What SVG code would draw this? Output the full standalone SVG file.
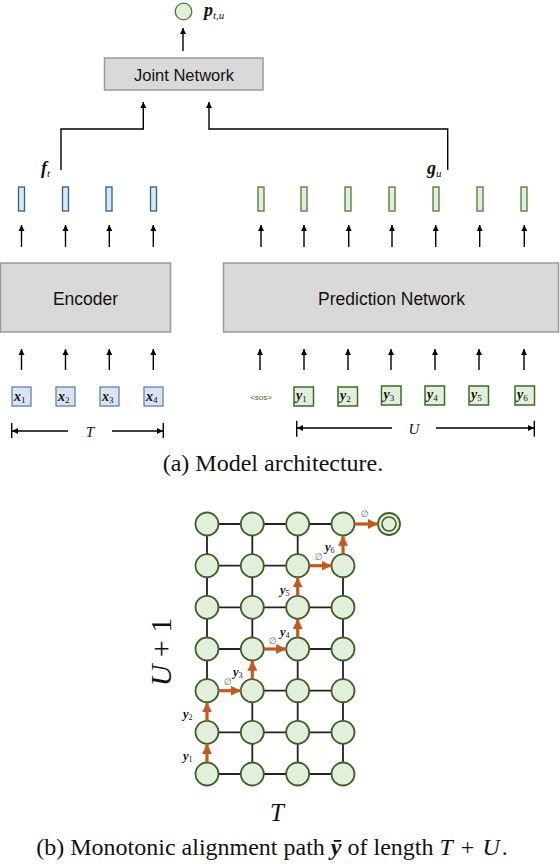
<svg xmlns="http://www.w3.org/2000/svg" width="560" height="864" viewBox="0 0 560 864">
<defs>
<marker id="ah" viewBox="0 0 8 8" refX="8" refY="4" markerWidth="6" markerHeight="7" markerUnits="userSpaceOnUse" orient="auto"><path d="M0,0 L8,4 L0,8 z" fill="#000"/></marker>
<marker id="oh" viewBox="0 0 10 10" refX="10" refY="5" markerWidth="10" markerHeight="10" markerUnits="userSpaceOnUse" orient="auto"><path d="M0,0 L10,5 L0,10 z" fill="#c8581a"/></marker>
</defs>
<style>
.box{fill:#d9d9d9;stroke:#9a9a9a;stroke-width:1.5}
.lbl{font-family:"Liberation Sans",Arial,sans-serif;fill:#111;text-anchor:middle}
.arr{stroke:#000;stroke-width:1.4;fill:none;marker-end:url(#ah)}
.ln{stroke:#000;stroke-width:1.4;fill:none}
.bv{fill:#dae8f5;stroke:#2f5f8f;stroke-width:1.3}
.gv{fill:#e2efda;stroke:#4d7a38;stroke-width:1.3}
.xb{fill:#dae3f0;stroke:#5f84ad;stroke-width:1.3}
.yb{fill:#e2efda;stroke:#3d6b2a;stroke-width:1.5}
.m{font-family:"Liberation Serif","Times New Roman",serif;font-style:italic;font-weight:bold;fill:#111}
.s{font-weight:normal;font-style:normal}
.si{font-weight:normal}
.nd{fill:#e2efda;stroke:#3f6129;stroke-width:1.8}
.gl{stroke:#222;stroke-width:1.8;fill:none}
.op{stroke:#c8581a;stroke-width:3.2;fill:none;marker-end:url(#oh)}
.em{font-family:"DejaVu Sans",sans-serif;font-size:9px;fill:#666;text-anchor:middle}
.cap{font-family:"Liberation Serif","Times New Roman",serif;font-size:24px;fill:#111}
</style>

<!-- Part (a) -->
<g id="output">
<circle cx="183.5" cy="11.5" r="8.3" fill="#e2efda" stroke="#4d7a38" stroke-width="1.3"/>
<text class="m" x="204" y="16" font-size="18">p<tspan class="si" font-size="11" dy="3">t,u</tspan></text>
</g>
<g id="joint">
<rect class="box" x="104.5" y="58" width="158.5" height="32"/>
<text class="lbl" x="184" y="81" font-size="16.5">Joint Network</text>
</g>
<g id="encoder">
<rect class="box" x="0.5" y="263" width="170" height="69"/>
<text class="lbl" x="85.5" y="305" font-size="17.5">Encoder</text>
</g>
<g id="prediction">
<rect class="box" x="223.5" y="263" width="335" height="69"/>
<text class="lbl" x="391.5" y="305" font-size="17.5">Prediction Network</text>
</g>
<g id="enc-vectors">
<rect class="bv" x="18.5" y="187" width="6" height="24"/>
<rect class="bv" x="62.5" y="187" width="6" height="24"/>
<rect class="bv" x="106" y="187" width="6" height="24"/>
<rect class="bv" x="150.5" y="187" width="6" height="24"/>
</g>
<g id="pred-vectors">
<rect class="gv" x="258" y="187" width="6" height="24"/>
<rect class="gv" x="301" y="187" width="6" height="24"/>
<rect class="gv" x="345" y="187" width="6" height="24"/>
<rect class="gv" x="389" y="187" width="6" height="24"/>
<rect class="gv" x="433" y="187" width="6" height="24"/>
<rect class="gv" x="477" y="187" width="6" height="24"/>
<rect class="gv" x="521" y="187" width="6" height="24"/>
</g>
<g id="labels-fg">
<text class="m" x="41" y="174" font-size="18">f<tspan class="si" font-size="11" dy="3">t</tspan></text>
<text class="m" x="427" y="174" font-size="18">g<tspan class="si" font-size="11" dy="3">u</tspan></text>
</g>
<g id="inputs">
<rect class="xb" x="12" y="387" width="19" height="19"/>
<text class="m" x="14" y="400.5" font-size="14">x<tspan class="s" font-size="9" dy="2">1</tspan></text>
<rect class="xb" x="56" y="387" width="19" height="19"/>
<text class="m" x="58" y="400.5" font-size="14">x<tspan class="s" font-size="9" dy="2">2</tspan></text>
<rect class="xb" x="100" y="387" width="19" height="19"/>
<text class="m" x="102" y="400.5" font-size="14">x<tspan class="s" font-size="9" dy="2">3</tspan></text>
<rect class="xb" x="144" y="387" width="19" height="19"/>
<text class="m" x="146" y="400.5" font-size="14">x<tspan class="s" font-size="9" dy="2">4</tspan></text>
<text x="261" y="400" font-family="Liberation Sans,Arial,sans-serif" font-size="8" fill="#3d6b2a" text-anchor="middle">&lt;sos&gt;</text>
<rect class="yb" x="294" y="387" width="19.5" height="19"/>
<text class="m" x="296" y="400" font-size="14">y<tspan class="s" font-size="9" dy="2">1</tspan></text>
<rect class="yb" x="338" y="387" width="19.5" height="19"/>
<text class="m" x="340" y="400" font-size="14">y<tspan class="s" font-size="9" dy="2">2</tspan></text>
<rect class="yb" x="381.5" y="386" width="19.5" height="19"/>
<text class="m" x="383.5" y="399" font-size="14">y<tspan class="s" font-size="9" dy="2">3</tspan></text>
<rect class="yb" x="425" y="386" width="19.5" height="19"/>
<text class="m" x="427" y="399" font-size="14">y<tspan class="s" font-size="9" dy="2">4</tspan></text>
<rect class="yb" x="469" y="386" width="19.5" height="19"/>
<text class="m" x="471" y="399" font-size="14">y<tspan class="s" font-size="9" dy="2">5</tspan></text>
<rect class="yb" x="515" y="386" width="19.5" height="19"/>
<text class="m" x="517" y="399" font-size="14">y<tspan class="s" font-size="9" dy="2">6</tspan></text>
</g>
<g id="connectors">
<path class="arr" d="M183,51 V28"/>
<path class="arr" d="M61,170 V129 H143.3 V102"/>
<path class="arr" d="M447.7,170 V129 H209 V102"/>
<path class="arr" d="M21.5,247 V225"/>
<path class="arr" d="M65.5,247 V225"/>
<path class="arr" d="M109.3,247 V225"/>
<path class="arr" d="M153.3,247 V225"/>
<path class="arr" d="M261,247 V225"/>
<path class="arr" d="M304,247 V225"/>
<path class="arr" d="M348.7,247 V225"/>
<path class="arr" d="M392,247 V225"/>
<path class="arr" d="M435.7,247 V225"/>
<path class="arr" d="M479.7,247 V225"/>
<path class="arr" d="M524.3,247 V225"/>
<path class="arr" d="M21.5,370 V349"/>
<path class="arr" d="M65.5,370 V349"/>
<path class="arr" d="M109.3,370 V349"/>
<path class="arr" d="M153.3,370 V349"/>
<path class="arr" d="M260,370 V349"/>
<path class="arr" d="M304,370 V349"/>
<path class="arr" d="M348,370 V349"/>
<path class="arr" d="M391,370 V349"/>
<path class="arr" d="M435,370 V349"/>
<path class="arr" d="M479,370 V349"/>
<path class="arr" d="M524,370 V349"/>
<!-- T dimension -->
<path class="ln" d="M11.7,423 V438 M163.3,423 V438"/>
<path class="arr" d="M68,431 H12"/>
<path class="arr" d="M112,431 H163"/>
<!-- U dimension -->
<path class="ln" d="M296.7,420.7 V436.7 M534.3,420.7 V436.7"/>
<path class="arr" d="M392,428 H297"/>
<path class="arr" d="M436,428 H534"/>
</g>
<g id="dim-labels">
<text x="90" y="436.5" font-family="Liberation Serif,serif" font-style="italic" font-size="15" text-anchor="middle" fill="#111">T</text>
<text x="414" y="434" font-family="Liberation Serif,serif" font-style="italic" font-size="15" text-anchor="middle" fill="#111">U</text>
</g>
<text class="cap" x="273" y="471" text-anchor="middle">(a)  Model architecture.</text>

<!-- Part (b) lattice -->
<g id="grid-edges">
<path class="gl" d="M207,774 H343 M207,732.3 H343 M252.3,690.7 H343 M207,649 H252.3 M297.7,649 H343 M207,607.3 H343 M207,565.7 H297.7 M207,524 H343"/>
<path class="gl" d="M207,690.7 V524 M252.3,774 V690.7 M252.3,649 V524 M297.7,774 V649 M297.7,565.7 V524 M343,774 V565.7"/>
</g>
<g id="lattice-nodes">
<circle class="nd" cx="207" cy="774" r="11.5"/><circle class="nd" cx="252.3" cy="774" r="11.5"/><circle class="nd" cx="297.7" cy="774" r="11.5"/><circle class="nd" cx="343" cy="774" r="11.5"/>
<circle class="nd" cx="207" cy="732.3" r="11.5"/><circle class="nd" cx="252.3" cy="732.3" r="11.5"/><circle class="nd" cx="297.7" cy="732.3" r="11.5"/><circle class="nd" cx="343" cy="732.3" r="11.5"/>
<circle class="nd" cx="207" cy="690.7" r="11.5"/><circle class="nd" cx="252.3" cy="690.7" r="11.5"/><circle class="nd" cx="297.7" cy="690.7" r="11.5"/><circle class="nd" cx="343" cy="690.7" r="11.5"/>
<circle class="nd" cx="207" cy="649" r="11.5"/><circle class="nd" cx="252.3" cy="649" r="11.5"/><circle class="nd" cx="297.7" cy="649" r="11.5"/><circle class="nd" cx="343" cy="649" r="11.5"/>
<circle class="nd" cx="207" cy="607.3" r="11.5"/><circle class="nd" cx="252.3" cy="607.3" r="11.5"/><circle class="nd" cx="297.7" cy="607.3" r="11.5"/><circle class="nd" cx="343" cy="607.3" r="11.5"/>
<circle class="nd" cx="207" cy="565.7" r="11.5"/><circle class="nd" cx="252.3" cy="565.7" r="11.5"/><circle class="nd" cx="297.7" cy="565.7" r="11.5"/><circle class="nd" cx="343" cy="565.7" r="11.5"/>
<circle class="nd" cx="207" cy="524" r="11.5"/><circle class="nd" cx="252.3" cy="524" r="11.5"/><circle class="nd" cx="297.7" cy="524" r="11.5"/><circle class="nd" cx="343" cy="524" r="11.5"/>
</g>
<g id="final-node">
<circle class="nd" cx="389" cy="524" r="11"/>
<circle cx="389" cy="524" r="7" fill="none" stroke="#3f6129" stroke-width="1.6"/>
</g>
<g id="path-arrows">
<path class="op" d="M207,762.5 V744"/>
<path class="op" d="M207,720.8 V702.4"/>
<path class="op" d="M218.5,690.7 H240.8"/>
<path class="op" d="M252.3,679.2 V660.7"/>
<path class="op" d="M263.8,649 H286.2"/>
<path class="op" d="M297.7,637.5 V619"/>
<path class="op" d="M297.7,595.8 V577.4"/>
<path class="op" d="M309.2,565.7 H331.5"/>
<path class="op" d="M343,554.2 V535.7"/>
<path class="op" d="M354.5,524 H377.8"/>
</g>
<g id="path-labels">
<text class="m" x="183" y="760" font-size="12.5">y<tspan class="s" font-size="8" dy="2">1</tspan></text>
<text class="m" x="183" y="718" font-size="12.5">y<tspan class="s" font-size="8" dy="2">2</tspan></text>
<text class="em" x="228" y="685">∅</text>
<text class="m" x="233" y="676" font-size="12.5">y<tspan class="s" font-size="8" dy="2">3</tspan></text>
<text class="em" x="273" y="644">∅</text>
<text class="m" x="280" y="636" font-size="12.5">y<tspan class="s" font-size="8" dy="2">4</tspan></text>
<text class="m" x="280" y="594" font-size="12.5">y<tspan class="s" font-size="8" dy="2">5</tspan></text>
<text class="em" x="319" y="560">∅</text>
<text class="m" x="325" y="551" font-size="12.5">y<tspan class="s" font-size="8" dy="2">6</tspan></text>
<text class="em" x="365" y="517">∅</text>
</g>
<g id="axis-labels">
<text transform="translate(171,652) rotate(-90)" font-family="Liberation Serif,serif" font-size="30" text-anchor="middle" fill="#111"><tspan font-style="italic">U</tspan> + 1</text>
<text x="277" y="821" font-family="Liberation Serif,serif" font-style="italic" font-size="25" text-anchor="middle" fill="#111">T</text>
</g>
<text class="cap" x="272" y="855" text-anchor="middle" font-size="25">(b)  Monotonic alignment path <tspan font-style="italic" font-weight="bold">ȳ</tspan> of length <tspan font-style="italic">T</tspan><tspan dx="2"> + </tspan><tspan dx="2" font-style="italic">U</tspan><tspan dx="2">.</tspan></text>
</svg>
